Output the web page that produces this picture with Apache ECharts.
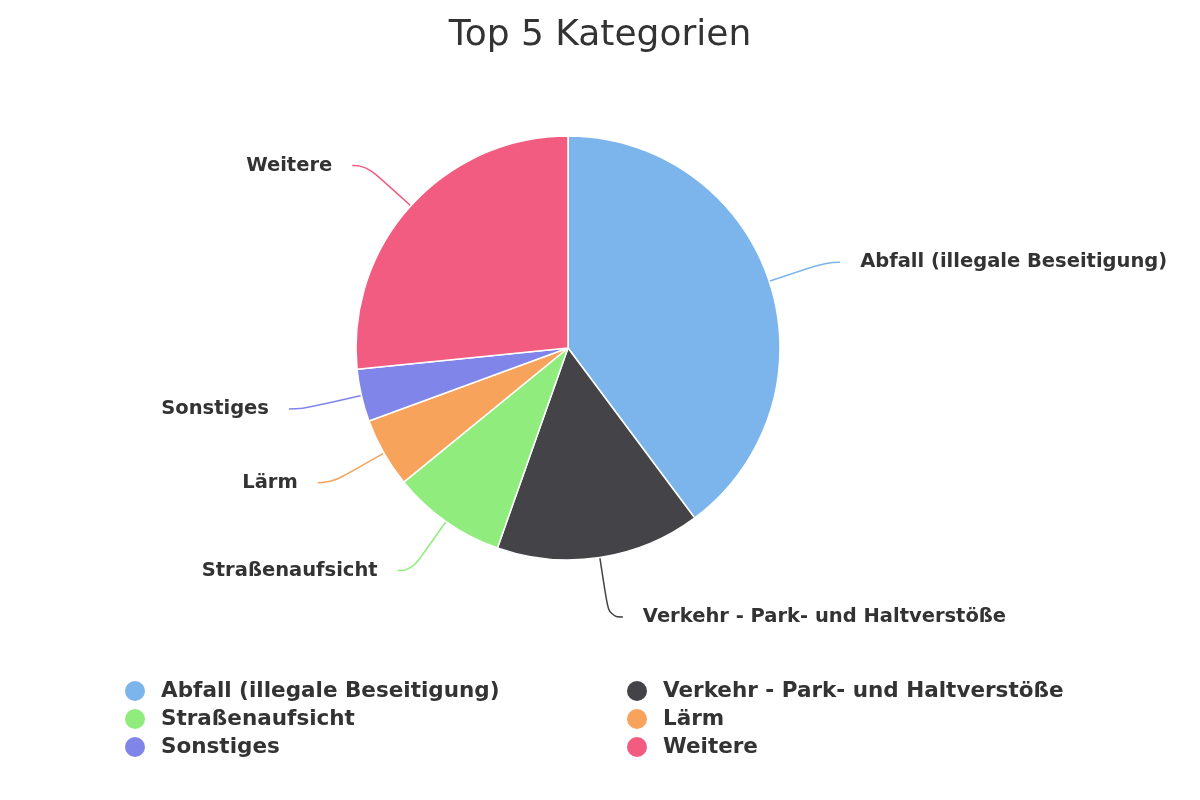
<!DOCTYPE html>
<html>
<head>
<meta charset="utf-8">
<script src="https://cdn.jsdelivr.net/npm/echarts@6/dist/echarts.min.js"></script>
<style>
  html, body { margin: 0; padding: 0; background: #fff; }
  #chart { width: 1200px; height: 800px; }
</style>
</head>
<body>
<div id="chart"></div>
<script>
// slice names, in clockwise order from 12 o'clock
const categories = [
  'Abfall (illegale Beseitigung)',
  'Verkehr - Park- und Haltverstöße',
  'Straßenaufsicht',
  'Lärm',
  'Sonstiges',
  'Weitere'
]
// share of each slice, %
const shares = [39.8, 15.6, 8.7, 5.3, 4.0, 26.6]
const colors = ['#7cb5ec', '#434348', '#90ed7d', '#f7a35c', '#8085e9', '#f15c80']

// legend is laid out in two columns like the original
const legendLeft = [categories[0], categories[2], categories[4]]
const legendRight = [categories[1], categories[3], categories[5]]

const font = 'DejaVu Sans'

const chart = echarts.init(document.getElementById('chart'))

const legendBase = {
  orient: 'vertical',
  top: 674,
  icon: 'circle',
  itemWidth: 22,
  itemHeight: 22,
  itemGap: 4,
  selectedMode: false,
  textStyle: {
    fontFamily: font,
    fontSize: 21.5,
    lineHeight: 22,
    fontWeight: 'bold',
    color: '#333',
    padding: [0, 0, 0, 10]
  }
}

chart.setOption({
  color: colors,
  title: {
    text: 'Top 5 Kategorien',
    left: 'center',
    top: 13,
    textStyle: {
      fontFamily: font,
      fontSize: 36,
      fontWeight: 'normal',
      color: '#333'
    }
  },
  legend: [
    Object.assign({}, legendBase, { left: 118, data: legendLeft }),
    Object.assign({}, legendBase, { left: 620, data: legendRight })
  ],
  series: [
    {
      type: 'pie',
      center: [568, 348],
      radius: 212,
      startAngle: 90,
      clockwise: true,
      avoidLabelOverlap: true,
      itemStyle: {
        borderColor: '#fff',
        borderWidth: 1.5
      },
      emphasis: { disabled: true },
      label: {
        show: true,
        formatter: '{b}',
        fontFamily: font,
        fontSize: 19.5,
        fontWeight: 'bold',
        color: '#333',
        distanceToLabelLine: 20
      },
      labelLine: {
        show: true,
        length: 60,
        length2: 14,
        smooth: 0.5,
        lineStyle: { width: 1.5 }
      },
      data: categories.map((name, i) => ({ name, value: shares[i] }))
    }
  ]
})
</script>
</body>
</html>
